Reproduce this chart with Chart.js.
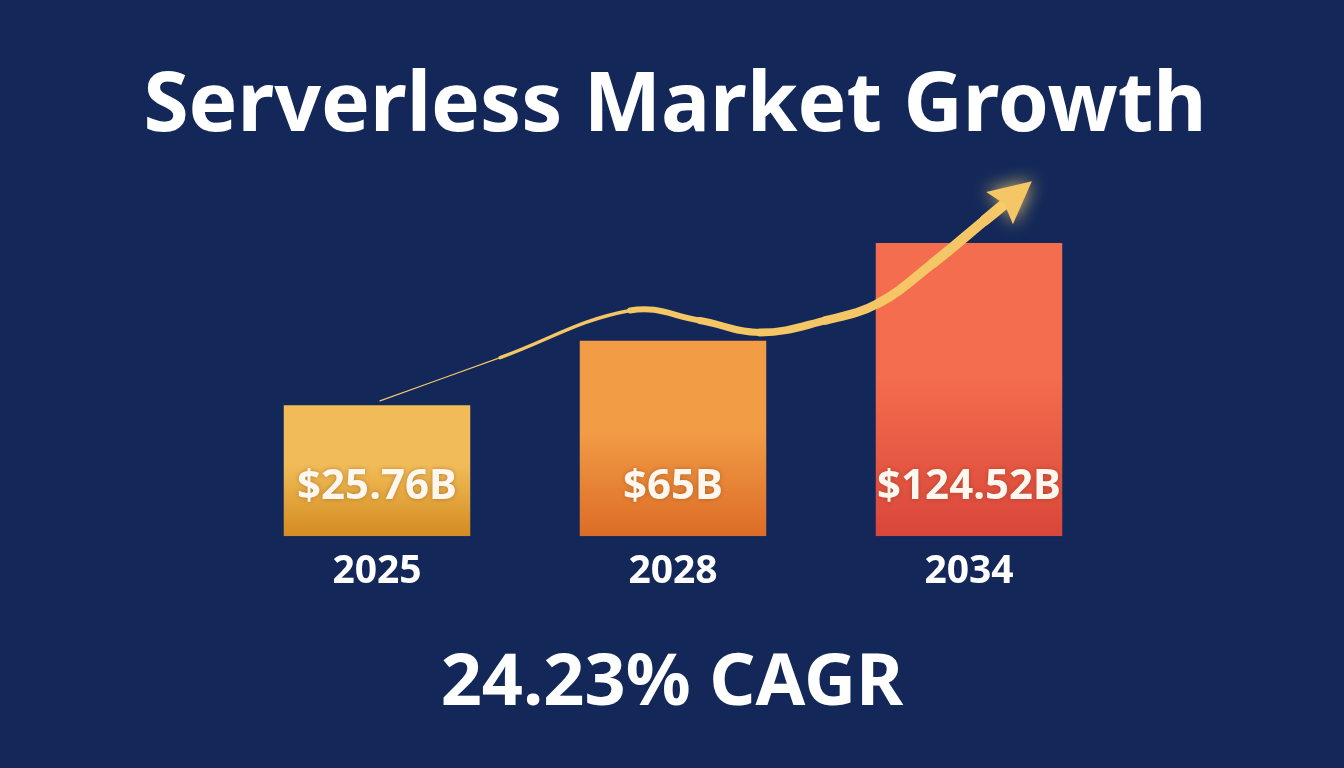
<!DOCTYPE html>
<html>
<head>
<meta charset="utf-8">
<script src="https://cdn.jsdelivr.net/npm/chart.js@4.4.1/dist/chart.umd.min.js"></script>
<style>
  body { margin: 0; background: #132859; }
  #wrap { position: relative; width: 1344px; height: 768px; overflow: hidden; }
  #chart { position: absolute; left: 0; top: 0; }
  h1, .cagr {
    position: absolute; left: 0; width: 100%; margin: 0; text-align: center;
    font-family: "Noto Sans", sans-serif; font-weight: 700; color: #ffffff;
    line-height: 1; z-index: 2;
  }
  h1 { top: 58px; font-size: 82px; left: 3px; }
  .cagr { top: 641px; font-size: 72px; }
</style>
</head>
<body>
<div id="wrap">
  <h1 id="title"></h1>
  <canvas id="chart" width="1344" height="768"></canvas>
  <p class="cagr" id="cagr"></p>
</div>
<script>
// Datos del gráfico
const titleText = 'Serverless Market Growth';
const cagrText = '24.23% CAGR';
const years = ['2025', '2028', '2034'];
const marketValues = [25.76, 65, 124.52];          // miles de millones USD
const valueLabels = ['$25.76B', '$65B', '$124.52B'];
// curva de tendencia (flecha), en unidades de índice / valor
const arrowX = [0.01, 0.416, 0.855, 1.091, 1.294, 1.514, 1.693, 1.878, 2.054, 2.125];
const arrowY = [28.4, 54.7, 83.4, 77.3, 70.0, 77.3, 87.7, 112.1, 138.4, 149.0];

const axisMin = -54;
const axisMax = 175;
const barTop = ['#f1bc58', '#f29d46', '#f46d4e'];
const barBottom = ['#d38c20', '#dc6c26', '#d9463a'];
const arrowColor = '#f4c666';
const arrowWidths = [1.2, 3.4, 6, 7, 7.8, 8.6, 9.4, 10.2, 11];

document.getElementById('title').textContent = titleText;
document.getElementById('cagr').textContent = cagrText;

// Etiquetas de valor dentro de las barras
const valueLabelPlugin = {
  id: 'valueLabels',
  afterDatasetsDraw(chart) {
    const ctx = chart.ctx;
    const meta = chart.getDatasetMeta(0);
    const base = chart.scales.y.getPixelForValue(axisMin);
    ctx.save();
    ctx.font = 'bold 42px "Noto Sans"';
    ctx.textAlign = 'center';
    ctx.textBaseline = 'alphabetic';
    ctx.fillStyle = '#fdf7f0';
    ctx.shadowColor = 'rgba(90, 40, 0, 0.35)';
    ctx.shadowBlur = 4;
    meta.data.forEach((bar, i) => {
      ctx.fillText(valueLabels[i], bar.x, base - 37);
    });
    ctx.restore();
  }
};

// Punta de la flecha al final de la curva
const arrowHeadPlugin = {
  id: 'arrowHead',
  afterDatasetsDraw(chart) {
    const meta = chart.getDatasetMeta(1);
    const pts = meta.data;
    if (pts.length < 2) return;
    const a = pts[pts.length - 2], b = pts[pts.length - 1];
    const ang = Math.atan2(b.y - a.y, b.x - a.x);
    const len = 42, half = 21;
    const tipX = b.x + Math.cos(ang) * len * 0.8;
    const tipY = b.y + Math.sin(ang) * len * 0.8;
    const bx = tipX - Math.cos(ang) * len, by = tipY - Math.sin(ang) * len;
    const ctx = chart.ctx;
    ctx.save();
    ctx.fillStyle = arrowColor;
    ctx.shadowColor = 'rgba(255, 215, 110, 0.9)';
    ctx.shadowBlur = 18;
    ctx.beginPath();
    ctx.moveTo(tipX, tipY);
    ctx.lineTo(bx + Math.cos(ang + Math.PI / 2) * half, by + Math.sin(ang + Math.PI / 2) * half);
    ctx.lineTo(b.x - Math.cos(ang) * 2, b.y - Math.sin(ang) * 2);
    ctx.lineTo(bx + Math.cos(ang - Math.PI / 2) * half, by + Math.sin(ang - Math.PI / 2) * half);
    ctx.closePath();
    ctx.fill();
    ctx.restore();
  }
};

function barGradient(c) {
  const i = c.dataIndex;
  if (i === undefined) return barTop[0];
  const chart = c.chart;
  if (!chart.chartArea) return barTop[i];
  const y = chart.scales.y;
  const g = chart.ctx.createLinearGradient(0, y.getPixelForValue(marketValues[i]), 0, y.getPixelForValue(axisMin));
  g.addColorStop(0, barTop[i]);
  g.addColorStop(0.45, barTop[i]);
  g.addColorStop(1, barBottom[i]);
  return g;
}

new Chart(document.getElementById('chart'), {
  type: 'bar',
  data: {
    labels: years,
    datasets: [{
      label: 'Market size',
      data: marketValues,
      base: axisMin,
      grouped: false,
      backgroundColor: barGradient,
      borderWidth: 0,
      barPercentage: 1,
      categoryPercentage: 0.63,
      xAxisID: 'x',
      order: 2
    }, {
      type: 'line',
      label: 'Trend',
      data: arrowX.map((x, i) => ({ x: x, y: arrowY[i] })),
      xAxisID: 'xArrow',
      borderColor: arrowColor,
      borderCapStyle: 'round',
      borderJoinStyle: 'round',
      tension: 0.4,
      pointRadius: 0,
      fill: false,
      order: 0,
      segment: {
        borderWidth: c => arrowWidths[c.p0DataIndex]
      }
    }]
  },
  options: {
    responsive: false,
    animation: false,
    layout: { padding: { left: 229, right: 227, top: 160, bottom: 161 } },
    plugins: {
      legend: { display: false },
      tooltip: { enabled: false },
      title: { display: false }
    },
    scales: {
      x: {
        grid: { display: false, drawTicks: false },
        border: { display: false },
        ticks: {
          color: '#ffffff',
          padding: 12,
          font: { family: '"Noto Sans"', weight: 'bold', size: 39 }
        }
      },
      xArrow: {
        type: 'linear',
        display: false,
        offset: false,
        min: -0.5,
        max: 2.5
      },
      y: {
        display: false,
        min: axisMin,
        max: axisMax
      }
    }
  },
  plugins: [valueLabelPlugin, arrowHeadPlugin]
});
</script>
</body>
</html>
